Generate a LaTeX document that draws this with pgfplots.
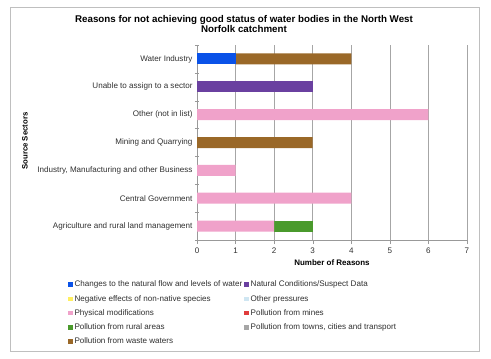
\documentclass[border=0pt]{standalone}
\usepackage{pgfplots}
\pgfplotsset{compat=1.18}
\usepackage{fontspec}
\setmainfont{Liberation Sans}
\definecolor{cblue}{HTML}{0A52E8}
\definecolor{cpurple}{HTML}{6A40A0}
\definecolor{cyellow}{HTML}{FFEF60}
\definecolor{clblue}{HTML}{CFE6F2}
\definecolor{cpink}{HTML}{F0A2CA}
\definecolor{cred}{HTML}{E03C3C}
\definecolor{cgreen}{HTML}{4A9A2C}
\definecolor{cgray}{HTML}{A6A6A6}
\definecolor{cbrown}{HTML}{9A6828}
\definecolor{txt}{HTML}{303030}
\begin{document}
\begin{tikzpicture}
\path[use as bounding box] (0bp,0bp) rectangle (491bp,-359bp);
\draw[black!25, line width=0.8bp] (10bp,-7bp) rectangle (479bp,-351bp);
\node[font=\fontsize{9.8}{11}\selectfont\bfseries, align=center, text=black] at (244bp,-24bp) {Reasons for not achieving good status of water bodies in the North West\\Norfolk catchment};
\node[font=\fontsize{7.8}{9}\selectfont\bfseries, rotate=90, text=black] at (25bp,-141bp) {Source Sectors};
\node[font=\fontsize{8}{9}\selectfont\bfseries, text=black] at (332bp,-263bp) {Number of Reasons};
\begin{axis}[
  anchor=south west, at={(197bp,-240bp)},
  scale only axis, width=270bp, height=195bp,
  xbar stacked, bar width=11bp,
  xmin=0, xmax=7, ymin=-0.5, ymax=6.5,
  axis x line=bottom, axis y line=left,
  axis line style={-, draw=black!40},
  xtick={0,...,7}, xtick align=outside, major tick length=4bp,
  x tick style={draw=black!40},
  ytick={0,...,6}, y tick style={draw=none},
  minor ytick={-0.5,0.5,...,6.5}, minor y tick style={draw=black!40},
  minor tick length=4bp,
  yticklabels={Agriculture and rural  land management, Central Government, {Industry, Manufacturing and other Business}, Mining and Quarrying, Other (not in list), Unable to assign to a sector, Water Industry},
  ticklabel style={font=\fontsize{8.1}{9}\selectfont, text=txt},
  yticklabel style={xshift=1bp},
  /pgf/number format/assume math mode=true,
  xmajorgrids, major grid style={draw=black!35, line width=0.6bp},
  legend columns=2,
  legend cell align=left,
  legend style={draw=none, at={(-0.478,-0.199)}, anchor=north west,
    font=\fontsize{8.1}{9}\selectfont, text=txt, row sep=2.9bp,
    /tikz/every even column/.append style={column sep=0bp},
    inner sep=0pt},
  legend image code/.code={\fill[#1] (0bp,-2.2bp) rectangle (4.4bp,2.2bp);},
  every axis plot/.append style={draw=none},
]
\addplot[fill=cblue] coordinates {(0,0) (0,1) (0,2) (0,3) (0,4) (0,5) (1,6)};
\addplot[fill=cpurple] coordinates {(0,0) (0,1) (0,2) (0,3) (0,4) (3,5) (0,6)};
\addplot[fill=cyellow] coordinates {(0,0) (0,1) (0,2) (0,3) (0,4) (0,5) (0,6)};
\addplot[fill=clblue] coordinates {(0,0) (0,1) (0,2) (0,3) (0,4) (0,5) (0,6)};
\addplot[fill=cpink] coordinates {(2,0) (4,1) (1,2) (0,3) (6,4) (0,5) (0,6)};
\addplot[fill=cred] coordinates {(0,0) (0,1) (0,2) (0,3) (0,4) (0,5) (0,6)};
\addplot[fill=cgreen] coordinates {(1,0) (0,1) (0,2) (0,3) (0,4) (0,5) (0,6)};
\addplot[fill=cgray] coordinates {(0,0) (0,1) (0,2) (0,3) (0,4) (0,5) (0,6)};
\addplot[fill=cbrown] coordinates {(0,0) (0,1) (0,2) (3,3) (0,4) (0,5) (3,6)};
\legend{Changes to the natural  flow and levels of water, Natural Conditions/Suspect Data, Negative effects of non-native species, Other pressures, Physical modifications, Pollution from mines, Pollution from rural areas, {Pollution from towns, cities and transport}, Pollution from waste waters}
\end{axis}
\end{tikzpicture}
\end{document}
